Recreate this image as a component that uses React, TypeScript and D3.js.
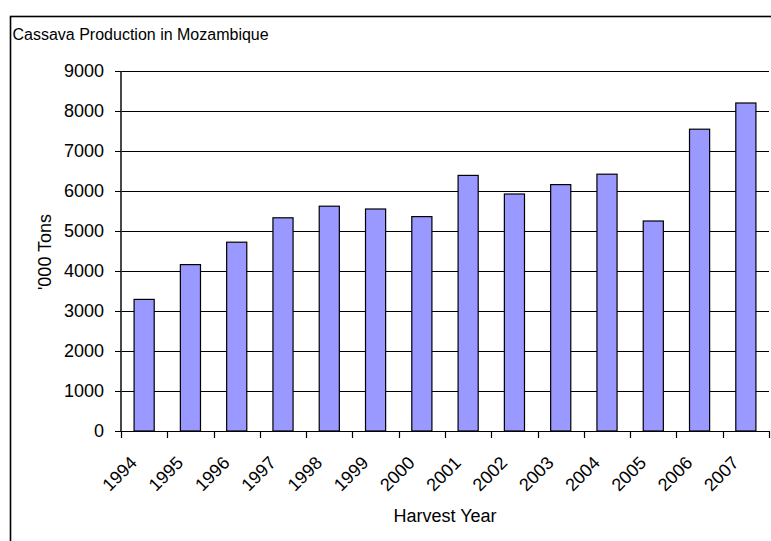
import React from "react";
import * as d3 from "d3";

const years = ["1994", "1995", "1996", "1997", "1998", "1999", "2000", "2001", "2002", "2003", "2004", "2005", "2006", "2007"];
const production = [3290, 4160, 4720, 5330, 5620, 5550, 5360, 6390, 5925, 6160, 6420, 5250, 7545, 8200];
const yTicks = [0, 1000, 2000, 3000, 4000, 5000, 6000, 7000, 8000, 9000];

const W = 771;
const H = 541;
const FONT = "'Liberation Sans', Arial, sans-serif";

export default function App() {
  const x = d3.scaleBand<string>().domain(years).range([121, 769]).padding(0);
  const y = d3.scaleLinear().domain([0, 9000]).range([431, 71]);
  const bw = x.bandwidth();
  const barW = bw / 2.3;
  const crisp = (v: number) => Math.round(v) + 0.5;

  return (
    <svg
      width={W}
      height={H}
      style={{ position: "absolute", left: 0, top: 0, background: "#fff" }}
      fontFamily={FONT}
    >
      <rect x={0} y={0} width={W} height={H} fill="#fff" />
      {/* outer chart frame */}
      <rect x={10.5} y={16.5} width={900} height={700} fill="none" stroke="#000" strokeWidth={1.6} />
      <text x={12.5} y={39.5} fontSize={16} fill="#000">Cassava Production in Mozambique</text>

      {/* gridlines */}
      {yTicks.filter((t) => t > 0).map((t) => (
        <line key={"g" + t} x1={121} x2={769} y1={crisp(y(t))} y2={crisp(y(t))} stroke="#000" strokeWidth={1.1} />
      ))}

      {/* bars */}
      {years.map((yr, i) => {
        const cx = (x(yr) as number) + bw / 2;
        return (
          <rect
            key={yr}
            x={cx - barW / 2}
            y={y(production[i])}
            width={barW}
            height={y(0) - y(production[i])}
            fill="#9999FF"
            stroke="#000"
            strokeWidth={1.2}
          />
        );
      })}

      {/* y axis */}
      <line x1={121} x2={121} y1={y(9000)} y2={y(0)} stroke="#333" strokeWidth={1.8} />
      {yTicks.map((t) => (
        <g key={"y" + t}>
          <line x1={115} x2={121} y1={crisp(y(t))} y2={crisp(y(t))} stroke="#000" strokeWidth={1} />
          <text x={104} y={y(t) + 6.3} textAnchor="end" fontSize={18} fill="#000">{t}</text>
        </g>
      ))}

      {/* x axis */}
      <line x1={121} x2={769} y1={crisp(y(0))} y2={crisp(y(0))} stroke="#000" strokeWidth={1.2} />
      {[...years.map((yr) => x(yr) as number), 769].map((px, i) => (
        <line key={"xt" + i} x1={crisp(px)} x2={crisp(px)} y1={y(0)} y2={y(0) + 7} stroke="#000" strokeWidth={1.2} />
      ))}
      {years.map((yr) => {
        const cx = (x(yr) as number) + bw / 2;
        return (
          <text
            key={"xl" + yr}
            transform={`translate(${cx - 6},${464}) rotate(-45)`}
            textAnchor="end"
            fontSize={18}
            fill="#000"
          >
            {yr}
          </text>
        );
      })}

      <text x={445} y={521.5} textAnchor="middle" fontSize={18} fill="#000">Harvest Year</text>
      <text transform={`translate(50.5,${252}) rotate(-90)`} textAnchor="middle" fontSize={18} fill="#000">'000 Tons</text>
    </svg>
  );
}
